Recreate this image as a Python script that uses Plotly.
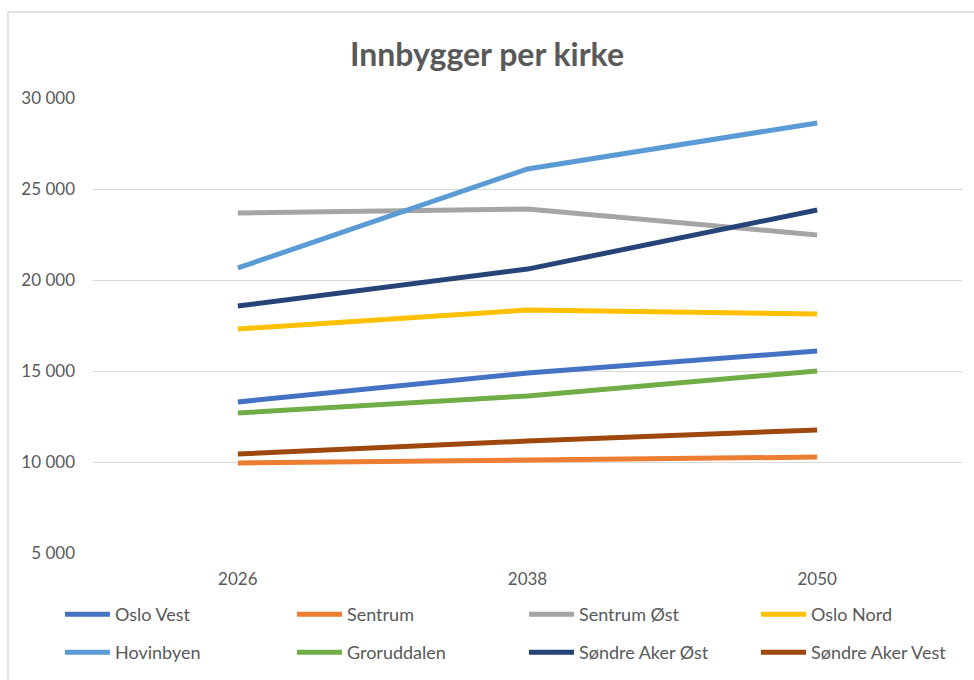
import plotly.graph_objects as go

years = ["2026", "2038", "2050"]
series_names = ["Oslo Vest", "Sentrum", "Sentrum Øst", "Oslo Nord",
                "Hovinbyen", "Groruddalen", "Søndre Aker Øst", "Søndre Aker Vest"]
oslo_vest = [13300, 14890, 16100]
sentrum = [9950, 10100, 10270]
sentrum_ost = [23680, 23900, 22470]
oslo_nord = [17310, 18350, 18130]
hovinbyen = [20660, 26100, 28630]
groruddalen = [12690, 13630, 15000]
sondre_aker_ost = [18570, 20600, 23850]
sondre_aker_vest = [10440, 11150, 11760]
colors = ["#4472C4", "#ED7D31", "#A5A5A5", "#FFC000",
          "#5B9BD5", "#70AD47", "#264478", "#9E480E"]
values = [oslo_vest, sentrum, sentrum_ost, oslo_nord,
          hovinbyen, groruddalen, sondre_aker_ost, sondre_aker_vest]
y_ticks = [5000, 10000, 15000, 20000, 25000, 30000]

FONT = "Lato, 'Open Sans', sans-serif"
TXT = "#595959"

fig = go.Figure()
for i, (name, vals, col) in enumerate(zip(series_names, values, colors)):
    fig.add_trace(go.Scatter(x=years, y=vals, name=name, mode="lines",
                             line=dict(color=col, width=5),
                             legend="legend" if i < 4 else "legend2"))

legend_common = dict(orientation="h", x=-0.038, xanchor="left",
                     yanchor="top", entrywidth=172, entrywidthmode="pixels",
                     font=dict(size=18, color=TXT), itemwidth=45,
                     bgcolor="rgba(0,0,0,0)")

fig.update_layout(
    width=974, height=680,
    paper_bgcolor="white", plot_bgcolor="white",
    margin=dict(l=93, r=12, t=98, b=127, autoexpand=False),
    separators=", ",
    font=dict(family=FONT, color=TXT, size=17),
    title=dict(text="<b>Innbygger per kirke</b>", x=0.5, xanchor="center",
               y=1 - 55 / 680, yanchor="middle",
               font=dict(family=FONT, size=32, color=TXT)),
    xaxis=dict(type="category", range=[-0.5, 2.5], showgrid=False,
               showline=False, zeroline=False, ticks="", automargin=False,
               ticklabelstandoff=14, tickfont=dict(size=17, color=TXT)),
    yaxis=dict(range=[5000, 30000], tickvals=y_ticks, tickformat=",d",
               showgrid=True, gridcolor="#D9D9D9", gridwidth=1,
               zeroline=False, showline=False, ticks="", automargin=False,
               ticklabelstandoff=17, tickfont=dict(size=17, color=TXT)),
    legend=dict(legend_common, y=-0.0945),
    legend2=dict(legend_common, y=-0.178),
    showlegend=True,
    shapes=[dict(type="rect", xref="paper", yref="paper",
                 x0=(8 - 93) / 869, x1=(990 - 93) / 869,
                 y0=-(700 - 553) / 455, y1=(553 - 12) / 455,
                 line=dict(color="#D9D9D9", width=1.5),
                 fillcolor="rgba(0,0,0,0)", layer="below")],
)

fig.write_html("out.html", config={"displayModeBar": False},
               post_script="document.body.style.margin='0';")
